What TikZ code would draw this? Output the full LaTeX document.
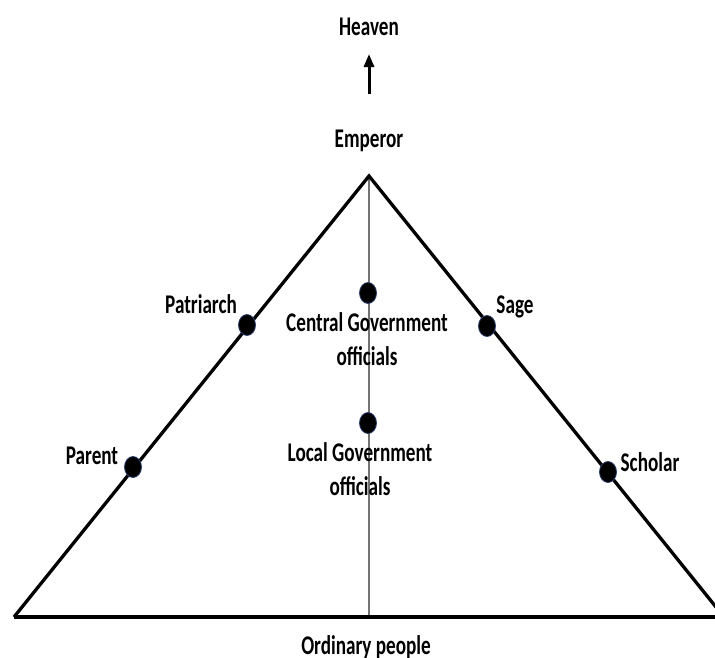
\documentclass[tikz,border=0pt]{standalone}
\usepackage{fontspec}
\setmainfont{Carlito}[FakeStretch=0.71]
\usetikzlibrary{arrows.meta,shapes.geometric}
\definecolor{dotedge}{RGB}{40,60,110}
\tikzset{
  lbl/.style={font=\fontsize{27}{34}\selectfont\bfseries, inner sep=0pt, align=center},
  dot/.style={ellipse, fill=black, draw=dotedge, line width=0.8pt, minimum width=17pt, minimum height=21pt, inner sep=0pt},
  side/.style={line width=3.3pt, line join=miter},
  base/.style={line width=4.6pt},
  axis/.style={line width=1.4pt, draw=black!55},
}
\begin{document}
\begin{tikzpicture}[x=1pt,y=-1pt]
\useasboundingbox (0,0) rectangle (715,657);
\clip (0,0) rectangle (715,657);
% triangle corners
\coordinate (apex) at (369,176);
\coordinate (bl) at (14,617);
\coordinate (br) at (724,617);
\coordinate (bm) at (369,617);
% axis
\draw[axis] (apex) -- (bm);
% triangle
\draw[base] (bl) -- (br);
\draw[side] (bl) -- (apex) -- (br);
% arrow to heaven
\node[lbl, anchor=base] (heaven) at (369,35) {Heaven};
\node[lbl, anchor=base] (emperor) at (369,147) {Emperor};
\coordinate (arrfrom) at (369,94);
\coordinate (arrto) at (369,54);
\draw[line width=3pt, -{Triangle[width=10pt,length=13pt]}] (arrfrom) -- (arrto);
% dots
\node[dot] (patriarchdot) at (247,325) {};
\node[dot] (parentdot) at (133,467) {};
\node[dot] (sagedot) at (487,326) {};
\node[dot] (scholardot) at (608,472) {};
\node[dot] (centraldot) at (368,293) {};
\node[dot] (localdot) at (368,423) {};
% labels
\node[lbl, anchor=base] (patriarch) at (201,313) {Patriarch};
\node[lbl, anchor=base] (parent) at (92,464) {Parent};
\node[lbl, anchor=base] (sage) at (515,313) {Sage};
\node[lbl, anchor=base] (scholar) at (650,471) {Scholar};
\node[lbl] (central) at (367,339) {Central Government\\officials};
\node[lbl] (local) at (360,469) {Local Government\\officials};
\node[lbl, anchor=base] (ordinary) at (366,654) {Ordinary people};
\end{tikzpicture}
\end{document}
